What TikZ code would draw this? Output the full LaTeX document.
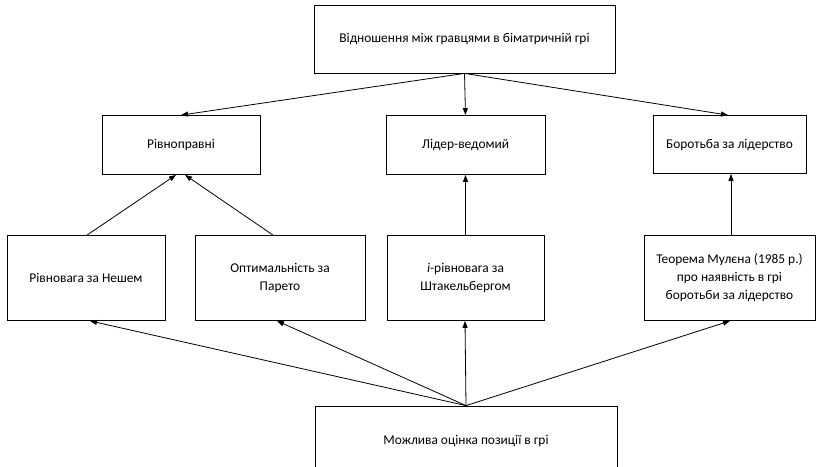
\documentclass[tikz,border=0pt]{standalone}
\usepackage{fontspec}
\setmainfont{Carlito}
\usetikzlibrary{arrows.meta}
\begin{document}
\begin{tikzpicture}[x=1pt,y=-1pt,
  box/.style={draw, line width=0.8pt, inner sep=0pt, align=center, font=\fontsize{13.4}{18}\selectfont},
  arr/.style={line width=0.8pt, -{Triangle[length=7pt,width=5pt]}}]
\clip (0,0) rectangle (816,466);
\fill[white] (0,0) rectangle (816,466);
\node[box, minimum width=301pt, minimum height=68pt] (top) at (464.5,39) {Відношення між гравцями в біматричній грі};
\node[box, minimum width=158pt, minimum height=59pt] (rivn) at (181,145) {Рівноправні};
\node[box, minimum width=159pt, minimum height=59pt] (lider) at (465.5,145) {Лідер-ведомий};
\node[box, minimum width=153pt, minimum height=58pt] (borot) at (729.5,144.5) {Боротьба за лідерство};
\node[box, minimum width=158pt, minimum height=85pt] (nash) at (86,278) {Рівновага за Нешем};
\node[box, minimum width=170pt, minimum height=85pt] (pareto) at (280,278) {Оптимальність за\\Парето};
\node[box, minimum width=157pt, minimum height=85pt] (stack) at (465.5,278) {\textit{i}-рівновага за\\Штакельбергом};
\node[box, minimum width=171pt, minimum height=85pt] (teor) at (729.5,278) {Теорема Мулєна (1985 р.)\\про наявність в грі\\боротьби за лідерство};
\node[box, minimum width=302pt, minimum height=70pt] (bot) at (466,441) {Можлива оцінка позиції в грі};
\draw[arr] (top.south) -- (rivn.north);
\draw[arr] (top.south) -- (lider.north);
\draw[arr] (top.south) -- ([xshift=-1.5pt]borot.north);
\draw[arr] ([xshift=1pt]nash.north) -- ([xshift=-5pt]rivn.south);
\draw[arr] ([xshift=-7pt]pareto.north) -- ([xshift=4pt]rivn.south);
\draw[arr] (stack.north) -- (lider.south);
\draw[arr] ([xshift=1.5pt]teor.north) -- ([xshift=1.5pt]borot.south);
\draw[arr] (bot.north) -- ([xshift=4pt]nash.south);
\draw[arr] (bot.north) -- ([xshift=-3pt]pareto.south);
\draw[arr] (bot.north) -- ([xshift=-0.5pt]stack.south);
\draw[arr] (bot.north) -- ([xshift=0.5pt]teor.south);
\end{tikzpicture}
\end{document}
